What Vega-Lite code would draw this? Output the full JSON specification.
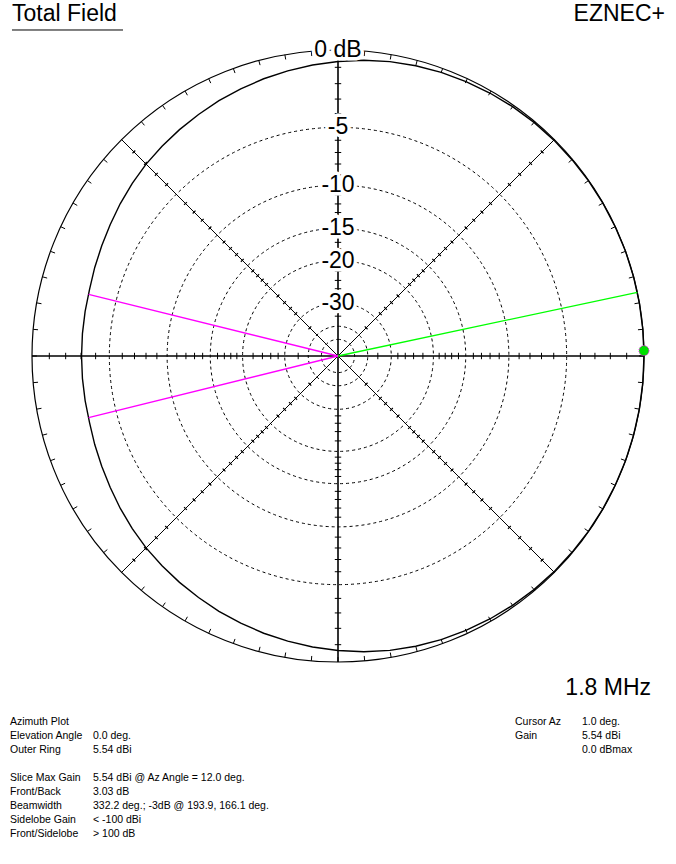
{
  "$schema": "https://vega.github.io/schema/vega-lite/v6.json",
  "width": 676,
  "height": 864,
  "autosize": "none",
  "padding": 0,
  "background": "white",
  "config": {"view": {"stroke": null}, "text": {"font": "Liberation Sans"}},
  "datasets": {
    "pattern": [
      {"az": 0, "db": 0}, {"az": 5, "db": 0}, {"az": 10, "db": 0}, {"az": 15, "db": 0}, {"az": 20, "db": 0},
      {"az": 25, "db": -0.01}, {"az": 30, "db": -0.01}, {"az": 35, "db": -0.02}, {"az": 40, "db": -0.03},
      {"az": 45, "db": -0.04}, {"az": 50, "db": -0.06}, {"az": 55, "db": -0.09}, {"az": 60, "db": -0.13},
      {"az": 65, "db": -0.18}, {"az": 70, "db": -0.24}, {"az": 75, "db": -0.31}, {"az": 80, "db": -0.4},
      {"az": 85, "db": -0.52}, {"az": 90, "db": -0.66}, {"az": 95, "db": -0.8}, {"az": 100, "db": -0.95},
      {"az": 105, "db": -1.1}, {"az": 110, "db": -1.26}, {"az": 115, "db": -1.42}, {"az": 120, "db": -1.59},
      {"az": 125, "db": -1.75}, {"az": 130, "db": -1.91}, {"az": 135, "db": -2.06}, {"az": 140, "db": -2.24},
      {"az": 145, "db": -2.42}, {"az": 150, "db": -2.6}, {"az": 155, "db": -2.75}, {"az": 160, "db": -2.87},
      {"az": 165, "db": -2.98}, {"az": 170, "db": -3.01}, {"az": 175, "db": -3.025}, {"az": 180, "db": -3.03},
      {"az": 185, "db": -3.025}, {"az": 190, "db": -3.01}, {"az": 195, "db": -2.98}, {"az": 200, "db": -2.87},
      {"az": 205, "db": -2.75}, {"az": 210, "db": -2.6}, {"az": 215, "db": -2.42}, {"az": 220, "db": -2.24},
      {"az": 225, "db": -2.06}, {"az": 230, "db": -1.91}, {"az": 235, "db": -1.75}, {"az": 240, "db": -1.59},
      {"az": 245, "db": -1.42}, {"az": 250, "db": -1.26}, {"az": 255, "db": -1.1}, {"az": 260, "db": -0.95},
      {"az": 265, "db": -0.8}, {"az": 270, "db": -0.66}, {"az": 275, "db": -0.52}, {"az": 280, "db": -0.4},
      {"az": 285, "db": -0.31}, {"az": 290, "db": -0.24}, {"az": 295, "db": -0.18}, {"az": 300, "db": -0.13},
      {"az": 305, "db": -0.09}, {"az": 310, "db": -0.06}, {"az": 315, "db": -0.04}, {"az": 320, "db": -0.03},
      {"az": 325, "db": -0.02}, {"az": 330, "db": -0.01}, {"az": 335, "db": -0.01}, {"az": 340, "db": 0},
      {"az": 345, "db": 0}, {"az": 350, "db": 0}, {"az": 355, "db": 0}, {"az": 360, "db": 0}
    ],
    "rings": [{"db": -5}, {"db": -10}, {"db": -15}, {"db": -20}, {"db": -30}, {"db": -40}, {"db": -50}],
    "ringLabels": [
      {"db": 0, "label": "0 dB"}, {"db": -5, "label": "-5"}, {"db": -10, "label": "-10"},
      {"db": -15, "label": "-15"}, {"db": -20, "label": "-20"}, {"db": -30, "label": "-30"}
    ],
    "infoLeft": [
      {"line": 0, "k": "Azimuth Plot", "v": ""},
      {"line": 1, "k": "Elevation Angle", "v": "0.0 deg."},
      {"line": 2, "k": "Outer Ring", "v": "5.54 dBi"},
      {"line": 4, "k": "Slice Max Gain", "v": "5.54 dBi @ Az Angle = 12.0 deg."},
      {"line": 5, "k": "Front/Back", "v": "3.03 dB"},
      {"line": 6, "k": "Beamwidth", "v": "332.2 deg.; -3dB @ 193.9, 166.1 deg."},
      {"line": 7, "k": "Sidelobe Gain", "v": "< -100 dBi"},
      {"line": 8, "k": "Front/Sidelobe", "v": "> 100 dB"}
    ],
    "infoRight": [
      {"line": 0, "k": "Cursor Az", "v": "1.0 deg."},
      {"line": 1, "k": "Gain", "v": "5.54 dBi"},
      {"line": 2, "k": "", "v": "0.0 dBmax"}
    ]
  },
  "layer": [
    {
      "data": {"name": "rings"},
      "transform": [
        {"calculate": "pow(0.89, -datum.db / 2)", "as": "r"},
        {"calculate": "0", "as": "cx"},
        {"calculate": "0", "as": "cy"}
      ],
      "mark": {"type": "arc", "filled": false, "stroke": "black", "strokeWidth": 1, "strokeDash": [3, 3], "theta": 0, "theta2": 6.2832},
      "encoding": {
        "x": {"field": "cx", "type": "quantitative", "scale": {"domain": [-1.104575, 1.104575], "nice": false, "zero": false}, "axis": null},
        "y": {"field": "cy", "type": "quantitative", "scale": {"domain": [-1.660131, 1.163399], "nice": false, "zero": false}, "axis": null},
        "radius": {"field": "r", "type": "quantitative", "stack": null, "scale": {"type": "linear", "domain": [0, 1], "range": [0, 306], "zero": true, "nice": false}}
      }
    },
    {
      "data": {"values": [{"db": 0}]},
      "transform": [
        {"calculate": "pow(0.89, -datum.db / 2)", "as": "r"},
        {"calculate": "0", "as": "cx"},
        {"calculate": "0", "as": "cy"}
      ],
      "mark": {"type": "arc", "filled": false, "stroke": "black", "strokeWidth": 1.2, "theta": 0, "theta2": 6.2832},
      "encoding": {
        "x": {"field": "cx", "type": "quantitative", "scale": {"domain": [-1.104575, 1.104575], "nice": false, "zero": false}, "axis": null},
        "y": {"field": "cy", "type": "quantitative", "scale": {"domain": [-1.660131, 1.163399], "nice": false, "zero": false}, "axis": null},
        "radius": {"field": "r", "type": "quantitative", "stack": null, "scale": {"type": "linear", "domain": [0, 1], "range": [0, 306], "zero": true, "nice": false}}
      }
    },
    {
      "data": {"values": [{"az": 45}, {"az": 135}, {"az": 225}, {"az": 315}]},
      "transform": [
        {"calculate": "0", "as": "x0"},
        {"calculate": "0", "as": "y0"},
        {"calculate": "cos(datum.az * PI / 180)", "as": "x"},
        {"calculate": "sin(datum.az * PI / 180)", "as": "y"}
      ],
      "mark": {"type": "rule", "color": "black", "strokeWidth": 1},
      "encoding": {
        "x": {"field": "x0", "type": "quantitative", "scale": {"domain": [-1.104575, 1.104575], "nice": false, "zero": false}, "axis": null},
        "y": {"field": "y0", "type": "quantitative", "scale": {"domain": [-1.660131, 1.163399], "nice": false, "zero": false}, "axis": null},
        "x2": {"field": "x"},
        "y2": {"field": "y"}
      }
    },
    {
      "data": {"values": [{"az": 0}, {"az": 90}, {"az": 180}, {"az": 270}]},
      "transform": [
        {"calculate": "0", "as": "x0"},
        {"calculate": "0", "as": "y0"},
        {"calculate": "cos(datum.az * PI / 180)", "as": "x"},
        {"calculate": "sin(datum.az * PI / 180)", "as": "y"}
      ],
      "mark": {"type": "rule", "color": "black", "strokeWidth": 1.6},
      "encoding": {
        "x": {"field": "x0", "type": "quantitative", "scale": {"domain": [-1.104575, 1.104575], "nice": false, "zero": false}, "axis": null},
        "y": {"field": "y0", "type": "quantitative", "scale": {"domain": [-1.660131, 1.163399], "nice": false, "zero": false}, "axis": null},
        "x2": {"field": "x"},
        "y2": {"field": "y"}
      }
    },
    {
      "data": {"values": [{
        "dirs": [0, 90, 180, 270],
        "levels": [-1, -2, -3, -4, -6, -7, -8, -9, -11, -12, -13, -14, -16, -17, -18, -19, -22, -24, -26, -28, -35]
      }]},
      "transform": [
        {"flatten": ["dirs"], "as": ["az"]},
        {"flatten": ["levels"], "as": ["db"]},
        {"calculate": "pow(0.89, -datum.db / 2)", "as": "r"},
        {"calculate": "datum.az * PI / 180", "as": "a"},
        {"calculate": "datum.r * cos(datum.a) - 0.0105 * sin(datum.a)", "as": "x"},
        {"calculate": "datum.r * sin(datum.a) + 0.0105 * cos(datum.a)", "as": "y"},
        {"calculate": "datum.r * cos(datum.a) + 0.0105 * sin(datum.a)", "as": "x2"},
        {"calculate": "datum.r * sin(datum.a) - 0.0105 * cos(datum.a)", "as": "y2"}
      ],
      "mark": {"type": "rule", "color": "black", "strokeWidth": 1},
      "encoding": {
        "x": {"field": "x", "type": "quantitative", "scale": {"domain": [-1.104575, 1.104575], "nice": false, "zero": false}, "axis": null},
        "y": {"field": "y", "type": "quantitative", "scale": {"domain": [-1.660131, 1.163399], "nice": false, "zero": false}, "axis": null},
        "x2": {"field": "x2"},
        "y2": {"field": "y2"}
      }
    },
    {
      "data": {"values": [{
        "dirs": [45, 135, 225, 315],
        "levels": [-1, -2, -3, -4, -6, -7, -8, -9, -11, -12, -13, -14, -16, -17, -18, -19, -22, -24, -26, -28, -35]
      }]},
      "transform": [
        {"flatten": ["dirs"], "as": ["az"]},
        {"flatten": ["levels"], "as": ["db"]},
        {"calculate": "pow(0.89, -datum.db / 2)", "as": "r"},
        {"calculate": "datum.az * PI / 180", "as": "a"},
        {"calculate": "datum.r * cos(datum.a) - 0.0065 * sin(datum.a)", "as": "x"},
        {"calculate": "datum.r * sin(datum.a) + 0.0065 * cos(datum.a)", "as": "y"},
        {"calculate": "datum.r * cos(datum.a) + 0.0065 * sin(datum.a)", "as": "x2"},
        {"calculate": "datum.r * sin(datum.a) - 0.0065 * cos(datum.a)", "as": "y2"}
      ],
      "mark": {"type": "rule", "color": "black", "strokeWidth": 1.2},
      "encoding": {
        "x": {"field": "x", "type": "quantitative", "scale": {"domain": [-1.104575, 1.104575], "nice": false, "zero": false}, "axis": null},
        "y": {"field": "y", "type": "quantitative", "scale": {"domain": [-1.660131, 1.163399], "nice": false, "zero": false}, "axis": null},
        "x2": {"field": "x2"},
        "y2": {"field": "y2"}
      }
    },
    {
      "data": {"values": [{
        "angles": [0, 5, 10, 15, 20, 25, 30, 35, 40, 45, 50, 55, 60, 65, 70, 75, 80, 85, 90, 95, 100, 105, 110, 115, 120, 125, 130, 135, 140, 145, 150, 155, 160, 165, 170, 175, 180, 185, 190, 195, 200, 205, 210, 215, 220, 225, 230, 235, 240, 245, 250, 255, 260, 265, 270, 275, 280, 285, 290, 295, 300, 305, 310, 315, 320, 325, 330, 335, 340, 345, 350, 355]
      }]},
      "transform": [
        {"flatten": ["angles"], "as": ["az"]},
        {"calculate": "datum.az * PI / 180", "as": "a"},
        {"calculate": "cos(datum.a)", "as": "x"},
        {"calculate": "sin(datum.a)", "as": "y"},
        {"calculate": "0.984 * cos(datum.a)", "as": "x2"},
        {"calculate": "0.984 * sin(datum.a)", "as": "y2"}
      ],
      "mark": {"type": "rule", "color": "black", "strokeWidth": 1},
      "encoding": {
        "x": {"field": "x", "type": "quantitative", "scale": {"domain": [-1.104575, 1.104575], "nice": false, "zero": false}, "axis": null},
        "y": {"field": "y", "type": "quantitative", "scale": {"domain": [-1.660131, 1.163399], "nice": false, "zero": false}, "axis": null},
        "x2": {"field": "x2"},
        "y2": {"field": "y2"}
      }
    },
    {
      "data": {"name": "pattern"},
      "transform": [
        {"calculate": "pow(0.89, -datum.db / 2)", "as": "r"},
        {"calculate": "datum.r * cos(datum.az * PI / 180)", "as": "x"},
        {"calculate": "datum.r * sin(datum.az * PI / 180)", "as": "y"}
      ],
      "mark": {"type": "line", "color": "black", "strokeWidth": 1.4, "interpolate": "linear"},
      "encoding": {
        "x": {"field": "x", "type": "quantitative", "scale": {"domain": [-1.104575, 1.104575], "nice": false, "zero": false}, "axis": null},
        "y": {"field": "y", "type": "quantitative", "scale": {"domain": [-1.660131, 1.163399], "nice": false, "zero": false}, "axis": null},
        "order": {"field": "az", "type": "quantitative"}
      }
    },
    {
      "data": {"values": [
        {"kind": "max gain", "az": 12, "db": 0},
        {"kind": "-3 dB", "az": 166.1, "db": -3},
        {"kind": "-3 dB", "az": 193.9, "db": -3}
      ]},
      "transform": [
        {"calculate": "pow(0.89, -datum.db / 2)", "as": "r"},
        {"calculate": "0", "as": "x0"},
        {"calculate": "0", "as": "y0"},
        {"calculate": "datum.r * cos(datum.az * PI / 180)", "as": "x"},
        {"calculate": "datum.r * sin(datum.az * PI / 180)", "as": "y"}
      ],
      "mark": {"type": "rule", "strokeWidth": 1.3},
      "encoding": {
        "x": {"field": "x0", "type": "quantitative", "scale": {"domain": [-1.104575, 1.104575], "nice": false, "zero": false}, "axis": null},
        "y": {"field": "y0", "type": "quantitative", "scale": {"domain": [-1.660131, 1.163399], "nice": false, "zero": false}, "axis": null},
        "x2": {"field": "x"},
        "y2": {"field": "y"},
        "color": {"field": "kind", "type": "nominal", "scale": {"domain": ["max gain", "-3 dB"], "range": ["#00ff00", "#ff00ff"]}, "legend": null}
      }
    },
    {
      "data": {"name": "ringLabels"},
      "transform": [
        {"calculate": "pow(0.89, -datum.db / 2)", "as": "r"},
        {"calculate": "0", "as": "x0"}
      ],
      "mark": {"type": "text", "fontSize": 23, "align": "center", "baseline": "middle", "fill": "white", "stroke": "white", "strokeWidth": 7, "strokeJoin": "round"},
      "encoding": {
        "x": {"field": "x0", "type": "quantitative", "scale": {"domain": [-1.104575, 1.104575], "nice": false, "zero": false}, "axis": null},
        "y": {"field": "r", "type": "quantitative", "scale": {"domain": [-1.660131, 1.163399], "nice": false, "zero": false}, "axis": null},
        "text": {"field": "label"}
      }
    },
    {
      "data": {"name": "ringLabels"},
      "transform": [
        {"calculate": "pow(0.89, -datum.db / 2)", "as": "r"},
        {"calculate": "0", "as": "x0"}
      ],
      "mark": {"type": "text", "fontSize": 23, "align": "center", "baseline": "middle", "color": "black"},
      "encoding": {
        "x": {"field": "x0", "type": "quantitative", "scale": {"domain": [-1.104575, 1.104575], "nice": false, "zero": false}, "axis": null},
        "y": {"field": "r", "type": "quantitative", "scale": {"domain": [-1.660131, 1.163399], "nice": false, "zero": false}, "axis": null},
        "text": {"field": "label"}
      }
    },
    {
      "data": {"values": [{"az": 1, "db": 0}]},
      "transform": [
        {"calculate": "pow(0.89, -datum.db / 2)", "as": "r"},
        {"calculate": "datum.r * cos(datum.az * PI / 180)", "as": "x"},
        {"calculate": "datum.r * sin(datum.az * PI / 180)", "as": "y"}
      ],
      "mark": {"type": "point", "shape": "circle", "filled": true, "fill": "#00e000", "fillOpacity": 1, "stroke": "#ff00ff", "strokeWidth": 1, "strokeDash": [1, 1], "size": 100},
      "encoding": {
        "x": {"field": "x", "type": "quantitative", "scale": {"domain": [-1.104575, 1.104575], "nice": false, "zero": false}, "axis": null},
        "y": {"field": "y", "type": "quantitative", "scale": {"domain": [-1.660131, 1.163399], "nice": false, "zero": false}, "axis": null}
      }
    },
    {
      "data": {"values": [{"t": "Total Field"}]},
      "mark": {"type": "text", "fontSize": 23, "align": "left", "baseline": "alphabetic", "color": "black"},
      "encoding": {
        "x": {"datum": -1.06536, "type": "quantitative", "scale": {"domain": [-1.104575, 1.104575], "nice": false, "zero": false}, "axis": null},
        "y": {"datum": 1.09477, "type": "quantitative", "scale": {"domain": [-1.660131, 1.163399], "nice": false, "zero": false}, "axis": null},
        "text": {"field": "t"}
      }
    },
    {
      "data": {"values": [{"t": "Total Field"}]},
      "transform": [
        {"calculate": "-1.06536", "as": "x"},
        {"calculate": "-0.70261", "as": "x2"},
        {"calculate": "1.06536", "as": "y"}
      ],
      "mark": {"type": "rule", "color": "black", "strokeWidth": 1},
      "encoding": {
        "x": {"field": "x", "type": "quantitative", "scale": {"domain": [-1.104575, 1.104575], "nice": false, "zero": false}, "axis": null},
        "x2": {"field": "x2"},
        "y": {"field": "y", "type": "quantitative", "scale": {"domain": [-1.660131, 1.163399], "nice": false, "zero": false}, "axis": null}
      }
    },
    {
      "data": {"values": [{"t": "EZNEC+"}]},
      "mark": {"type": "text", "fontSize": 23, "align": "right", "baseline": "alphabetic", "color": "black"},
      "encoding": {
        "x": {"datum": 1.06863, "type": "quantitative", "scale": {"domain": [-1.104575, 1.104575], "nice": false, "zero": false}, "axis": null},
        "y": {"datum": 1.09477, "type": "quantitative", "scale": {"domain": [-1.660131, 1.163399], "nice": false, "zero": false}, "axis": null},
        "text": {"field": "t"}
      }
    },
    {
      "data": {"values": [{"t": "1.8 MHz"}]},
      "mark": {"type": "text", "fontSize": 23, "align": "right", "baseline": "alphabetic", "color": "black"},
      "encoding": {
        "x": {"datum": 1.02288, "type": "quantitative", "scale": {"domain": [-1.104575, 1.104575], "nice": false, "zero": false}, "axis": null},
        "y": {"datum": -1.10784, "type": "quantitative", "scale": {"domain": [-1.660131, 1.163399], "nice": false, "zero": false}, "axis": null},
        "text": {"field": "t"}
      }
    },
    {
      "data": {"name": "infoLeft"},
      "transform": [{"calculate": "-1.19771 - 0.045425 * datum.line", "as": "y"}],
      "mark": {"type": "text", "fontSize": 10.5, "align": "left", "baseline": "middle", "color": "black"},
      "encoding": {
        "x": {"datum": -1.0719, "type": "quantitative", "scale": {"domain": [-1.104575, 1.104575], "nice": false, "zero": false}, "axis": null},
        "y": {"field": "y", "type": "quantitative", "scale": {"domain": [-1.660131, 1.163399], "nice": false, "zero": false}, "axis": null},
        "text": {"field": "k"}
      }
    },
    {
      "data": {"name": "infoLeft"},
      "transform": [{"calculate": "-1.19771 - 0.045425 * datum.line", "as": "y"}],
      "mark": {"type": "text", "fontSize": 10.5, "align": "left", "baseline": "middle", "color": "black"},
      "encoding": {
        "x": {"datum": -0.80065, "type": "quantitative", "scale": {"domain": [-1.104575, 1.104575], "nice": false, "zero": false}, "axis": null},
        "y": {"field": "y", "type": "quantitative", "scale": {"domain": [-1.660131, 1.163399], "nice": false, "zero": false}, "axis": null},
        "text": {"field": "v"}
      }
    },
    {
      "data": {"name": "infoRight"},
      "transform": [{"calculate": "-1.19771 - 0.045425 * datum.line", "as": "y"}],
      "mark": {"type": "text", "fontSize": 10.5, "align": "left", "baseline": "middle", "color": "black"},
      "encoding": {
        "x": {"datum": 0.57843, "type": "quantitative", "scale": {"domain": [-1.104575, 1.104575], "nice": false, "zero": false}, "axis": null},
        "y": {"field": "y", "type": "quantitative", "scale": {"domain": [-1.660131, 1.163399], "nice": false, "zero": false}, "axis": null},
        "text": {"field": "k"}
      }
    },
    {
      "data": {"name": "infoRight"},
      "transform": [{"calculate": "-1.19771 - 0.045425 * datum.line", "as": "y"}],
      "mark": {"type": "text", "fontSize": 10.5, "align": "left", "baseline": "middle", "color": "black"},
      "encoding": {
        "x": {"datum": 0.79739, "type": "quantitative", "scale": {"domain": [-1.104575, 1.104575], "nice": false, "zero": false}, "axis": null},
        "y": {"field": "y", "type": "quantitative", "scale": {"domain": [-1.660131, 1.163399], "nice": false, "zero": false}, "axis": null},
        "text": {"field": "v"}
      }
    }
  ]
}
